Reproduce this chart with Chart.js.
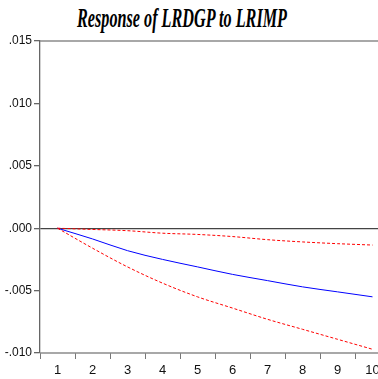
<!DOCTYPE html>
<html>
<head>
<meta charset="utf-8">
<script src="https://cdn.jsdelivr.net/npm/chart.js@4/dist/chart.umd.min.js"></script>
<style>
  html, body { margin: 0; padding: 0; background: #fff; overflow: hidden; }
  #wrap { position: relative; width: 378px; height: 379px; overflow: hidden; }
  #box { position: absolute; left: 0; top: 0; width: 390px; height: 379px; }
  #title {
    position: absolute; left: 182px; top: 3px;
    font: italic bold 27px "Liberation Serif", "Times New Roman", serif;
    white-space: nowrap; color: #000;
    transform: translateX(-50%) scaleX(0.6);
    transform-origin: center top;
  }
</style>
</head>
<body>
<div id="wrap">
  <div id="title">Response of LRDGP to LRIMP</div>
  <div id="box"><canvas id="c" width="390" height="379"></canvas></div>
</div>
<script>
// Impulse response, periods 1..10, with +/- 2 s.e. bands.
const periods = ['1', '2', '3', '4', '5', '6', '7', '8', '9', '10'];
const response = [0, -0.00086, -0.0018, -0.0025, -0.0031, -0.0037, -0.0042, -0.0047, -0.0051, -0.0055];
const upperBand = [0, -0.0001, -0.0002, -0.0004, -0.0005, -0.00067, -0.00092, -0.0011, -0.00124, -0.00135];
const lowerBand = [0, -0.0016, -0.0031, -0.0044, -0.0055, -0.0064, -0.0073, -0.0081, -0.0089, -0.0097];
const yTicks = [-0.010, -0.005, 0, 0.005, 0.010, 0.015];

// EViews-style tick text: ".005", "-.010"
function fmt(v) {
  return v.toFixed(3).replace(/^(-?)0\./, '$1.');
}

// frame around the plot area
const frame = {
  id: 'frame',
  beforeDatasetsDraw(chart) {
    const { ctx, chartArea: a } = chart;
    ctx.save();
    ctx.strokeStyle = '#8c8c8c';
    ctx.lineWidth = 1.5;
    ctx.beginPath();
    ctx.moveTo(a.left, a.top);
    ctx.lineTo(a.right, a.top);
    ctx.moveTo(a.left, a.bottom);
    ctx.lineTo(a.right, a.bottom);
    ctx.stroke();
    ctx.restore();
  }
};

const line = (data, color, dash) => ({
  data,
  borderColor: color,
  borderWidth: 1,
  borderDash: dash,
  pointRadius: 0,
  cubicInterpolationMode: 'monotone',
  fill: false,
});

new Chart(document.getElementById('c').getContext('2d'), {
  type: 'line',
  data: {
    labels: periods,
    datasets: [
      line(upperBand, '#ff0000', [3, 2]),
      line(lowerBand, '#ff0000', [3, 2]),
      line(response, '#0000ff', []),
    ],
  },
  options: {
    responsive: false,
    animation: false,
    layout: { padding: { top: 41, left: 0, right: 0, bottom: 0 } },
    plugins: { legend: { display: false }, tooltip: { enabled: false } },
    scales: {
      x: {
        type: 'category',
        offset: true,
        afterFit(s) { s.height = 26; },
        grid: { offset: true, drawOnChartArea: false, tickLength: 6, tickColor: '#777', lineWidth: 1 },
        border: { display: false },
        ticks: {
          padding: 4,
          color: '#111',
          font: { family: '"Liberation Sans Narrow", "Liberation Sans", Arial, sans-serif', size: 13 },
        },
      },
      y: {
        min: -0.010,
        max: 0.015,
        afterFit(s) { s.width = 40; },
        afterBuildTicks(s) { s.ticks = yTicks.map(v => ({ value: v })); },
        grid: {
          color: c => (c.tick && c.tick.value === 0 ? '#444' : 'transparent'),
          lineWidth: 1.3,
          tickLength: 6,
          tickColor: '#666',
        },
        border: { color: '#666', width: 1.3 },
        ticks: {
          padding: 2,
          color: '#111',
          callback: v => fmt(v),
          font: { family: '"Liberation Sans", Arial, sans-serif', size: 12 },
        },
      },
    },
  },
  plugins: [frame],
});
</script>
</body>
</html>
